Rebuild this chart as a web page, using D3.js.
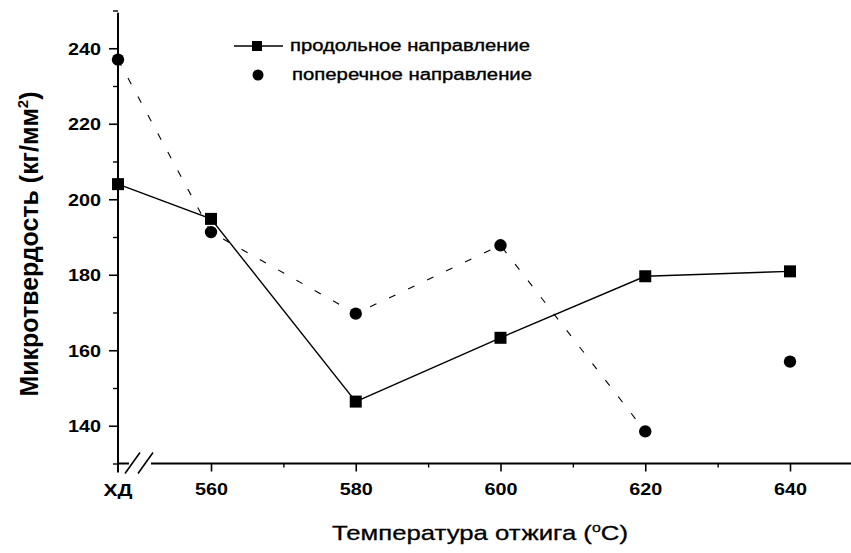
<!DOCTYPE html>
<html>
<head>
<meta charset="utf-8">
<script src="https://cdn.jsdelivr.net/npm/d3@7"></script>
<style>
  html, body { margin: 0; padding: 0; background: #fff; }
  svg { display: block; font-family: "Liberation Sans", Arial, sans-serif; }
</style>
</head>
<body>
<svg id="chart" width="851" height="553"></svg>
<script>
// ---- data ----
const categories = ["ХД", 560, 580, 600, 620, 640];
const longitudinal = [204, 194.8, 146.4, 163.3, 179.6, 180.9];   // продольное направление
const transverse   = [237, 191.3, 169.7, 187.8, 138.5, 157];     // поперечное направление
const yTickValues = [140, 160, 180, 200, 220, 240];
const yMinorValues = [130, 150, 170, 190, 210, 230, 250];
const xTickValues = [560, 580, 600, 620, 640];
const xMinorValues = [570, 590, 610, 630];
const seriesNames = ["продольное направление", "поперечное направление"];

// ---- layout ----
const svg = d3.select("#chart");
const axisX0 = 118;      // y-axis position (also ХД position)
const axisY0 = 463.5;    // x-axis position

const y = d3.scaleLinear().domain([130, 250]).range([axisY0, 10.5]);
const x = d3.scaleLinear().domain([560, 640]).range([211, 790]);
const xPos = d => d === "ХД" ? axisX0 : x(d);

const ink = "#000";

// ---- y axis ----
const gy = svg.append("g").attr("transform", `translate(${axisX0},0)`);
gy.call(d3.axisLeft(y).tickValues(yTickValues).tickSize(9).tickPadding(8).tickFormat(d3.format("d")));
gy.select(".domain").remove();
gy.selectAll(".tick line").attr("stroke", ink).attr("stroke-width", 1.6);
gy.selectAll(".tick text")
  .attr("fill", ink).attr("font-size", 17).attr("font-weight", "bold")
  .attr("textLength", 33).attr("lengthAdjust", "spacingAndGlyphs")
  .attr("dy", "0.36em");
const gyMinor = svg.append("g").attr("transform", `translate(${axisX0},0)`);
gyMinor.call(d3.axisLeft(y).tickValues(yMinorValues).tickSize(5).tickFormat(""));
gyMinor.select(".domain").remove();
gyMinor.selectAll(".tick line").attr("stroke", ink).attr("stroke-width", 1.4);
svg.append("line").attr("x1", axisX0).attr("x2", axisX0)
  .attr("y1", y(249.4)).attr("y2", axisY0 + 9)
  .attr("stroke", ink).attr("stroke-width", 2);

// ---- x axis (with break) ----
const gx = svg.append("g").attr("transform", `translate(0,${axisY0})`);
gx.call(d3.axisBottom(x).tickValues(xTickValues).tickSize(8).tickPadding(11).tickFormat(d3.format("d")));
gx.select(".domain").remove();
gx.selectAll(".tick line").attr("stroke", ink).attr("stroke-width", 1.6);
gx.selectAll(".tick text")
  .attr("fill", ink).attr("font-size", 17).attr("font-weight", "bold")
  .attr("textLength", 33).attr("lengthAdjust", "spacingAndGlyphs");
const gxMinor = svg.append("g").attr("transform", `translate(0,${axisY0})`);
gxMinor.call(d3.axisBottom(x).tickValues(xMinorValues).tickSize(4).tickFormat(""));
gxMinor.select(".domain").remove();
gxMinor.selectAll(".tick line").attr("stroke", ink).attr("stroke-width", 1.4);

// ХД label
svg.append("text").attr("x", axisX0).attr("y", axisY0 + 32)
  .attr("text-anchor", "middle").attr("font-size", 17).attr("font-weight", "bold")
  .attr("textLength", 29).attr("lengthAdjust", "spacingAndGlyphs")
  .attr("fill", ink).text(categories[0]);

// axis line segments and break marks
svg.append("line").attr("x1", axisX0).attr("x2", 129).attr("y1", axisY0).attr("y2", axisY0)
  .attr("stroke", ink).attr("stroke-width", 2);
svg.append("line").attr("x1", 151).attr("x2", 851).attr("y1", axisY0).attr("y2", axisY0)
  .attr("stroke", ink).attr("stroke-width", 2);
[[125, 140], [138, 153]].forEach(([a, b]) => {
  svg.append("line").attr("x1", a).attr("y1", axisY0 + 10).attr("x2", b).attr("y2", axisY0 - 11)
    .attr("stroke", ink).attr("stroke-width", 1.6);
});

// ---- axis titles ----
svg.append("text")
  .attr("transform", `translate(38,244) rotate(-90)`)
  .attr("text-anchor", "middle").attr("font-size", 25).attr("font-weight", "bold")
  .attr("textLength", 305).attr("lengthAdjust", "spacingAndGlyphs")
  .attr("fill", ink)
  .call(t => {
    t.append("tspan").text("Микротвердость (кг/мм");
    t.append("tspan").attr("font-size", 15).attr("dy", -10).text("2");
    t.append("tspan").attr("dy", 10).text(")");
  });

svg.append("text")
  .attr("x", 480).attr("y", 540)
  .attr("text-anchor", "middle").attr("font-size", 21)
  .attr("textLength", 296).attr("lengthAdjust", "spacingAndGlyphs")
  .attr("fill", ink).attr("stroke", ink).attr("stroke-width", 0.3)
  .call(t => {
    t.append("tspan").text("Температура отжига (");
    t.append("tspan").attr("font-size", 13).attr("dy", -8).text("o");
    t.append("tspan").attr("dy", 8).text("C)");
  });

// ---- data marks ----
const pts = (vals) => categories.map((c, i) => ({ c, v: vals[i] }));
const line = d3.line().x(d => xPos(d.c)).y(d => y(d.v));

// transverse dashed connector (visible up to 620 in the original)
const transPts = pts(transverse);
svg.append("path").datum(transPts.slice(0, 5)).attr("d", line)
  .attr("fill", "none").attr("stroke", ink).attr("stroke-width", 1.1)
  .attr("stroke-dasharray", "7,14");

// longitudinal solid line
const longPts = pts(longitudinal);
svg.append("path").datum(longPts).attr("d", line)
  .attr("fill", "none").attr("stroke", ink).attr("stroke-width", 1.4);

const sq = 12;
svg.append("g").selectAll("rect").data(longPts).join("rect")
  .attr("x", d => xPos(d.c) - sq / 2).attr("y", d => y(d.v) - sq / 2)
  .attr("width", sq).attr("height", sq).attr("fill", ink);

svg.append("g").selectAll("circle").data(transPts).join("circle")
  .attr("cx", d => xPos(d.c)).attr("cy", d => y(d.v)).attr("r", 6.2).attr("fill", ink);

// ---- legend ----
const lg = svg.append("g");
lg.append("line").attr("x1", 234).attr("x2", 283).attr("y1", 46).attr("y2", 46)
  .attr("stroke", ink).attr("stroke-width", 1.4);
lg.append("rect").attr("x", 252).attr("y", 41).attr("width", 10).attr("height", 10).attr("fill", ink);
lg.append("text").attr("x", 290).attr("y", 51).attr("font-size", 16)
  .attr("textLength", 240).attr("lengthAdjust", "spacingAndGlyphs")
  .attr("fill", ink).attr("stroke", ink).attr("stroke-width", 0.35).text(seriesNames[0]);
lg.append("circle").attr("cx", 258).attr("cy", 75).attr("r", 5.5).attr("fill", ink);
lg.append("text").attr("x", 292).attr("y", 80).attr("font-size", 16)
  .attr("textLength", 240).attr("lengthAdjust", "spacingAndGlyphs")
  .attr("fill", ink).attr("stroke", ink).attr("stroke-width", 0.35).text(seriesNames[1]);
</script>
</body>
</html>
